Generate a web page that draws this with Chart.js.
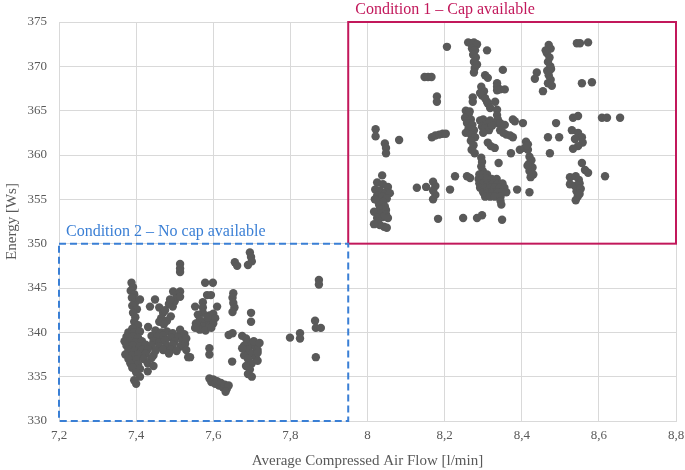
<!DOCTYPE html>
<html>
<head>
<meta charset="utf-8">
<script src="https://cdn.jsdelivr.net/npm/chart.js@4"></script>
<style>
  html, body { margin: 0; padding: 0; background: #fff; }
  #wrap { width: 685px; height: 470px; }
</style>
</head>
<body>
<div id="wrap"><canvas id="chart"></canvas></div>
<script>
// tick labels on the flow axis (comma decimals as in the original)
const xTickLabels = ['7,2', '7,4', '7,6', '7,8', '8', '8,2', '8,4', '8,6', '8,8'];

// [flow l/min, energy Ws] – condition 2, no cap available
const noCapPoints = [
    [7.388,345.6],[7.392,345.1],[7.386,344.7],[7.395,344.3],[7.389,343.9],[7.398,343.4],[7.39,343.0],[7.402,342.6],
    [7.392,342.2],[7.398,341.7],[7.395,341.2],[7.405,340.8],[7.39,340.4],[7.41,343.7],[7.436,342.9],[7.449,343.7],
    [7.46,342.8],[7.47,342.2],[7.465,341.6],[7.48,341.3],[7.49,341.8],[7.475,342.5],[7.495,342.9],[7.50,343.5],
    [7.505,344.0],[7.496,344.6],[7.514,344.6],[7.514,344.0],[7.485,343.2],[7.46,341.2],[7.472,340.9],[7.488,343.7],
    [7.514,347.7],[7.514,347.2],[7.514,346.8],
    [7.38,340.0],[7.395,340.0],[7.41,340.1],[7.45,340.2],[7.465,340.0],[7.48,340.1],[7.495,339.9],
    [7.375,339.5],[7.39,339.5],[7.405,339.4],[7.44,339.6],[7.455,339.5],[7.47,339.6],[7.49,339.4],[7.51,339.6],
    [7.37,339.0],[7.385,339.0],[7.40,338.9],[7.415,339.0],[7.445,339.0],[7.46,338.9],[7.475,339.1],[7.50,339.0],[7.52,339.1],
    [7.375,338.5],[7.39,338.5],[7.41,338.4],[7.425,338.6],[7.44,338.5],[7.46,338.4],[7.48,338.5],[7.495,338.6],[7.515,338.4],[7.527,338.7],
    [7.38,338.0],[7.395,337.9],[7.415,338.0],[7.43,338.1],[7.45,337.9],[7.47,338.0],[7.49,338.1],[7.505,337.9],[7.53,338.0],
    [7.372,337.5],[7.39,337.4],[7.405,337.5],[7.425,337.6],[7.445,337.4],[7.485,337.6],[7.535,337.2],
    [7.38,337.0],[7.40,336.9],[7.42,337.0],[7.44,337.1],[7.385,336.5],[7.405,336.4],[7.43,336.5],
    [7.39,336.0],[7.41,335.9],[7.445,336.2],[7.40,335.5],[7.41,335.0],[7.395,334.6],[7.40,334.2],[7.43,335.6],
    [7.431,340.6],[7.514,340.3],[7.525,339.8],[7.53,339.3],
    [7.579,345.6],[7.599,345.6],[7.584,344.2],[7.594,344.2],[7.553,342.9],[7.61,342.9],[7.573,343.4],[7.573,342.8],[7.573,342.2],
    [7.56,342.0],[7.59,341.9],[7.60,342.1],[7.565,341.4],[7.58,341.2],[7.595,341.3],[7.605,341.6],[7.56,340.8],[7.575,340.6],
    [7.59,340.7],[7.60,341.0],[7.565,340.3],[7.58,340.2],[7.595,340.5],[7.555,341.0],[7.553,340.5],[7.585,341.7],
    [7.652,344.4],[7.65,343.9],[7.652,343.3],[7.655,342.8],[7.65,342.3],[7.698,342.2],[7.698,341.2],
    [7.656,347.9],[7.662,347.5],[7.695,349.0],[7.698,348.5],[7.70,348.0],[7.69,347.6],
    [7.675,339.6],[7.685,339.3],[7.69,338.9],[7.70,338.6],[7.71,338.3],[7.715,338.0],[7.68,338.5],[7.69,338.0],[7.70,337.6],
    [7.71,337.2],[7.715,337.7],[7.68,337.4],[7.69,337.0],[7.70,336.5],[7.685,336.2],[7.695,335.8],[7.69,335.3],[7.70,335.0],
    [7.675,338.2],[7.705,339.0],[7.715,336.8],[7.72,338.8],
    [7.64,339.7],[7.65,339.9],[7.649,336.7],[7.59,338.2],[7.59,337.5],[7.54,337.2],
    [7.59,334.8],[7.595,334.4],[7.60,334.7],[7.605,334.2],[7.61,334.5],[7.615,334.0],[7.62,334.3],[7.625,333.8],
    [7.63,334.1],[7.635,333.6],[7.64,334.0],[7.632,333.3],
    [7.874,345.9],[7.874,345.4],[7.864,341.3],[7.866,340.5],[7.879,340.5],[7.825,339.9],[7.825,339.3],[7.799,339.4],[7.866,337.2]
];

// [flow l/min, energy Ws] – condition 1, cap available
const capPoints = [
    [8.038,357.7],[8.025,356.9],[8.04,356.7],[8.053,356.4],[8.02,356.1],[8.032,356.0],[8.048,355.8],[8.058,355.7],
    [8.025,355.4],[8.038,355.3],[8.05,355.1],[8.027,354.8],[8.04,354.7],[8.03,354.4],[8.045,354.2],[8.032,353.9],
    [8.048,353.8],[8.017,353.6],[8.035,353.4],[8.048,353.3],[8.04,353.0],[8.053,352.9],[8.025,352.9],[8.027,352.5],
    [8.032,352.1],[8.043,351.9],[8.05,351.8],[8.019,355.0],[8.017,352.2],
    [8.021,362.9],[8.021,362.1],[8.045,361.3],[8.048,360.8],[8.048,360.2],[8.082,361.7],
    [8.148,368.8],[8.157,368.8],[8.166,368.8],[8.18,366.6],[8.18,366.0],[8.167,362.0],[8.176,362.2],[8.186,362.3],
    [8.195,362.4],[8.203,362.4],[8.206,372.2],[8.128,356.3],[8.152,356.4],[8.17,357.0],[8.176,356.5],[8.17,356.0],
    [8.176,355.5],[8.17,355.0],[8.183,352.8],[8.214,356.1],[8.227,357.6],[8.258,357.6],[8.266,357.4],[8.248,352.9],
    [8.284,352.9],[8.297,353.2],[8.349,352.7],
    [8.261,372.7],[8.268,372.6],[8.276,372.7],[8.284,372.5],[8.271,372.0],[8.279,371.8],[8.274,371.3],[8.281,371.0],
    [8.276,370.5],[8.284,370.2],[8.278,369.8],[8.276,369.3],[8.31,371.8],[8.305,369.0],[8.312,368.7],[8.351,369.6],
    [8.336,368.1],[8.336,367.7],[8.336,367.3],[8.344,367.4],[8.356,367.4],
    [8.295,367.7],[8.302,367.2],[8.297,366.7],[8.305,366.4],[8.31,366.0],[8.312,365.8],[8.318,365.3],[8.292,367.0],
    [8.273,366.5],[8.273,366.0],[8.331,366.0],
    [8.336,365.1],[8.336,364.5],[8.338,364.0],[8.336,363.6],[8.344,363.6],[8.356,363.4],[8.377,364.0],[8.382,363.8],[8.403,363.6],
    [8.255,365.0],[8.262,364.6],[8.253,364.2],[8.268,364.0],[8.258,363.6],[8.272,363.4],[8.262,363.0],[8.276,362.8],
    [8.255,362.5],[8.268,362.3],[8.279,362.0],[8.265,364.9],
    [8.292,363.9],[8.30,364.0],[8.31,363.7],[8.318,363.9],[8.297,363.2],[8.305,363.0],[8.315,362.8],[8.323,363.3],[8.30,362.5],
    [8.344,362.8],[8.352,362.5],[8.36,362.3],[8.37,362.2],[8.377,362.0],
    [8.268,361.6],[8.275,361.1],[8.27,360.6],[8.278,360.2],[8.312,361.4],[8.32,361.0],[8.33,360.8],[8.372,360.2],
    [8.395,360.6],[8.408,360.8],[8.416,361.2],[8.416,360.6],
    [8.295,359.7],[8.297,359.2],[8.295,358.7],[8.299,358.2],[8.34,359.1],
    [8.29,357.8],[8.30,357.8],[8.31,357.8],
    [8.288,357.3],[8.298,357.3],[8.31,357.3],[8.322,357.3],[8.335,357.3],
    [8.29,356.8],[8.30,356.8],[8.312,356.8],[8.325,356.8],[8.338,356.8],[8.35,356.8],
    [8.292,356.3],[8.305,356.3],[8.318,356.3],[8.33,356.3],[8.343,356.3],[8.355,356.3],
    [8.30,355.8],[8.312,355.8],[8.325,355.8],[8.338,355.8],[8.35,355.8],[8.36,355.8],
    [8.305,355.3],[8.318,355.3],[8.33,355.3],[8.345,355.3],[8.345,354.8],[8.347,354.4],
    [8.388,356.1],[8.42,355.8],
    [8.47,372.4],[8.475,372.0],[8.465,371.5],[8.472,371.0],[8.468,370.5],[8.474,370.0],[8.466,369.5],[8.47,369.0],
    [8.475,368.5],[8.468,368.1],[8.478,367.8],[8.462,371.8],[8.476,369.7],
    [8.439,369.3],[8.434,368.6],[8.455,367.2],
    [8.543,372.6],[8.551,372.6],[8.572,372.7],[8.556,368.1],[8.582,368.2],
    [8.489,363.6],[8.468,362.0],[8.497,362.0],[8.473,360.2],[8.533,364.2],[8.546,364.4],
    [8.53,362.8],[8.546,362.5],[8.556,362.0],[8.558,361.4],[8.546,361.0],[8.538,361.8],[8.533,360.7],
    [8.608,364.2],[8.621,364.2],[8.655,364.2],
    [8.411,361.5],[8.413,361.1],[8.42,359.8],[8.425,359.4],[8.418,359.0],[8.428,358.6],[8.42,358.2],[8.43,357.8],
    [8.423,357.5],[8.415,358.8],[8.616,357.6],
    [8.556,359.1],[8.564,358.3],[8.572,358.0],[8.525,357.5],[8.525,356.7],[8.54,357.6],[8.548,357.2],[8.538,356.5],
    [8.55,356.8],[8.542,355.9],[8.553,356.2],[8.545,355.3],[8.54,354.9],[8.55,355.6]
];

// highlighted regions, in data units
const capBox = { label: 'Condition 1 \u2013 Cap available', xMin: 7.95, xMax: 8.8, yMin: 350, yMax: 375, color: '#c2185b', dash: [] };
const noCapBox = { label: 'Condition 2 \u2013 No cap available', xMin: 7.2, xMax: 7.95, yMin: 330, yMax: 350, color: '#3a7fd5', dash: [7, 4] };

const FONT = '"Liberation Serif", "Times New Roman", serif';
const GREY = '#595959';

const boxesPlugin = {
    id: 'boxes',
    afterDatasetsDraw(chart) {
        const { ctx, scales: { x, y } } = chart;
        [capBox, noCapBox].forEach(b => {
            const l = x.getPixelForValue(b.xMin), r = x.getPixelForValue(b.xMax);
            const t = y.getPixelForValue(b.yMax), btm = y.getPixelForValue(b.yMin);
            ctx.save();
            ctx.strokeStyle = b.color;
            ctx.lineWidth = 2;
            ctx.setLineDash(b.dash);
            ctx.strokeRect(l, t, r - l, btm - t);
            ctx.setLineDash([]);
            ctx.fillStyle = b.color;
            ctx.font = '16px ' + FONT;
            ctx.textBaseline = 'alphabetic';
            ctx.fillText(b.label, l + 7, t - 8);
            ctx.restore();
        });
    }
};

const toXY = p => ({ x: p[0], y: p[1] });
const pointStyle = { backgroundColor: GREY, borderColor: GREY, pointRadius: 4.2, pointHoverRadius: 4.2, borderWidth: 0 };

new Chart(document.getElementById('chart'), {
    type: 'scatter',
    data: {
        datasets: [
            { label: 'Cap available', data: capPoints.map(toXY), ...pointStyle },
            { label: 'No cap available', data: noCapPoints.map(toXY), ...pointStyle }
        ]
    },
    options: {
        responsive: true,
        maintainAspectRatio: false,
        animation: false,
        layout: { padding: { top: 22, right: 0, left: 0, bottom: 0 } },
        plugins: { legend: { display: false }, tooltip: { enabled: false } },
        scales: {
            x: {
                min: 7.2, max: 8.8,
                afterBuildTicks: s => { s.ticks = xTickLabels.map((_, i) => ({ value: 7.2 + i * 0.2 })); },
                afterFit: s => { s.height = 49; s.paddingLeft = 0; s.paddingRight = 9; },
                ticks: { callback: (v, i) => xTickLabels[i], color: GREY, font: { family: FONT, size: 13 }, padding: 7, maxRotation: 0 },
                grid: { color: '#d9d9d9', drawTicks: false },
                border: { color: '#d9d9d9' },
                title: { display: true, text: 'Average Compressed Air Flow [l/min]', color: GREY, font: { family: FONT, size: 15 }, padding: { top: 0, bottom: 0 } }
            },
            y: {
                min: 330, max: 375,
                afterFit: s => { s.width = 59; },
                ticks: { stepSize: 5, color: GREY, font: { family: FONT, size: 13 }, padding: 12 },
                grid: { color: '#d9d9d9', drawTicks: false },
                border: { color: '#d9d9d9' },
                title: { display: true, text: 'Energy [Ws]', color: GREY, font: { family: FONT, size: 15 }, padding: { top: 3, bottom: 0 } }
            }
        }
    },
    plugins: [boxesPlugin]
});
</script>
</body>
</html>
